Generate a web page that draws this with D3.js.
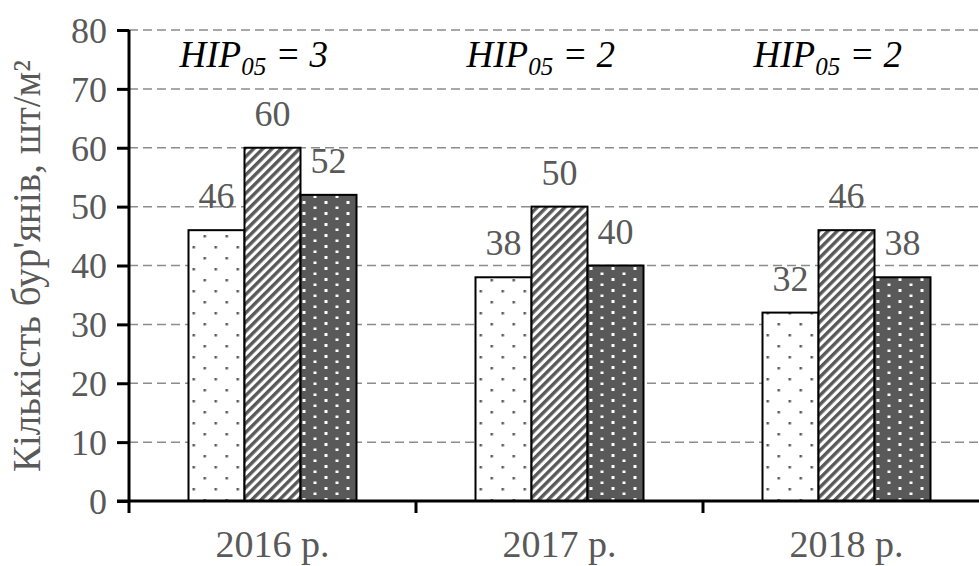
<!DOCTYPE html>
<html>
<head>
<meta charset="utf-8">
<script src="https://cdn.jsdelivr.net/npm/d3@7"></script>
<style>
  body { margin: 0; background: #fff; }
  svg { display: block; }
  svg text { font-family: "Liberation Serif", "DejaVu Serif", serif; }
</style>
</head>
<body>
<svg id="chart" width="979" height="566"></svg>
<script>
// chart data
const years = ['2016 р.', '2017 р.', '2018 р.'];
const variants = ['a', 'b', 'c'];
const values = [
  [46, 60, 52],
  [38, 50, 40],
  [32, 46, 38]
];
const hip = ['3', '2', '2'];
const yTicks = [0, 10, 20, 30, 40, 50, 60, 70, 80];

const serif = '"Liberation Serif", "DejaVu Serif", serif';
const svg = d3.select('#chart');

// patterns for the three bars
const defs = svg.append('defs');

const p1 = defs.append('pattern').attr('id', 'dots').attr('patternUnits', 'userSpaceOnUse')
  .attr('width', 22).attr('height', 22);
p1.append('rect').attr('width', 22).attr('height', 22).attr('fill', '#fff');
p1.append('rect').attr('x', 4).attr('y', 4).attr('width', 2.5).attr('height', 2.5).attr('fill', '#595959');
p1.append('rect').attr('x', 15).attr('y', 15).attr('width', 2.5).attr('height', 2.5).attr('fill', '#595959');

const p2 = defs.append('pattern').attr('id', 'stripes').attr('patternUnits', 'userSpaceOnUse')
  .attr('width', 6.5).attr('height', 6.5).attr('patternTransform', 'rotate(-45)');
p2.append('rect').attr('width', 6.5).attr('height', 6.5).attr('fill', '#fff');
p2.append('rect').attr('width', 6.5).attr('height', 3.4).attr('fill', '#595959');

const p3 = defs.append('pattern').attr('id', 'wdots').attr('patternUnits', 'userSpaceOnUse')
  .attr('width', 22).attr('height', 11);
p3.append('rect').attr('width', 22).attr('height', 11).attr('fill', '#595959');
p3.append('rect').attr('x', 4).attr('y', 3).attr('width', 3).attr('height', 3).attr('fill', '#fff');
p3.append('rect').attr('x', 15).attr('y', 8.5).attr('width', 3).attr('height', 3).attr('fill', '#fff');

const fills = ['url(#dots)', 'url(#stripes)', 'url(#wdots)'];

// scales
const x = d3.scaleBand().domain(years).range([129, 990]);
const xs = d3.scaleBand().domain(variants).range([0, 168]);
const y = d3.scaleLinear().domain([0, 80]).range([501, 30]);

// gridlines
svg.append('g').selectAll('line')
  .data(yTicks.filter(d => d > 0))
  .enter().append('line')
  .attr('x1', 129).attr('x2', 979)
  .attr('y1', d => y(d)).attr('y2', d => y(d))
  .attr('stroke', '#8c8c8c').attr('stroke-width', 1.5)
  .attr('stroke-dasharray', '9,5');

// bars
const groups = svg.append('g').selectAll('g')
  .data(values)
  .enter().append('g')
  .attr('transform', (d, i) => 'translate(' + (x(years[i]) + x.bandwidth() / 2 - 84) + ',0)');

groups.selectAll('rect')
  .data(d => d)
  .enter().append('rect')
  .attr('x', (d, i) => xs(variants[i]))
  .attr('width', xs.bandwidth())
  .attr('y', d => y(d))
  .attr('height', d => y(0) - y(d))
  .attr('fill', (d, i) => fills[i])
  .attr('stroke', '#000').attr('stroke-width', 2);

// value labels
groups.selectAll('text')
  .data(d => d)
  .enter().append('text')
  .attr('x', (d, i) => xs(variants[i]) + xs.bandwidth() / 2)
  .attr('y', d => y(d) - 22)
  .attr('text-anchor', 'middle')
  .attr('font-family', serif)
  .attr('font-size', 36)
  .attr('fill', '#595959')
  .text(d => d);

// HIP labels
const hipText = svg.append('g').selectAll('text')
  .data(hip)
  .enter().append('text')
  .attr('x', (d, i) => x(years[i]) + x.bandwidth() / 2 - 93)
  .attr('y', 67)
  .attr('font-family', serif)
  .attr('font-size', 37)
  .attr('font-style', 'italic')
  .attr('fill', '#000');
hipText.append('tspan').text('HIP');
hipText.append('tspan').attr('font-size', 25).attr('dy', 8).text('05');
hipText.append('tspan').attr('dy', -8).text(d => ' = ' + d);

// y axis
const yAxis = svg.append('g')
  .attr('transform', 'translate(129,0)')
  .call(d3.axisLeft(y).tickValues(yTicks).tickSize(12).tickPadding(10));
yAxis.select('.domain').attr('stroke', '#000').attr('stroke-width', 3).attr('d', 'M0,' + y(80) + 'V' + y(0));
yAxis.selectAll('.tick line').attr('stroke', '#000').attr('stroke-width', 3);
yAxis.selectAll('.tick text')
  .attr('font-family', serif)
  .attr('font-size', 36).attr('fill', '#595959').attr('dy', '0.34em');

// x axis
const xAxis = svg.append('g')
  .attr('transform', 'translate(0,' + y(0) + ')')
  .call(d3.axisBottom(x).tickSize(0));
xAxis.select('.domain').attr('stroke', '#000').attr('stroke-width', 3).attr('d', 'M117,0H979');
xAxis.selectAll('.tick text')
  .attr('font-family', serif)
  .attr('font-size', 38).attr('fill', '#595959')
  .attr('y', 56).attr('dy', 0);

// category boundary ticks
const bounds = [x.range()[0], x(years[1]), x(years[2])];
xAxis.append('g').selectAll('line')
  .data(bounds)
  .enter().append('line')
  .attr('x1', d => d).attr('x2', d => d)
  .attr('y1', 0).attr('y2', 12)
  .attr('stroke', '#000').attr('stroke-width', 3);

// y axis title
svg.append('text')
  .attr('transform', 'translate(40,266) rotate(-90)')
  .attr('text-anchor', 'middle')
  .attr('font-family', serif)
  .attr('font-size', 39)
  .attr('fill', '#595959')
  .text('Кількість бур\'янів, шт/м²');
</script>
</body>
</html>
